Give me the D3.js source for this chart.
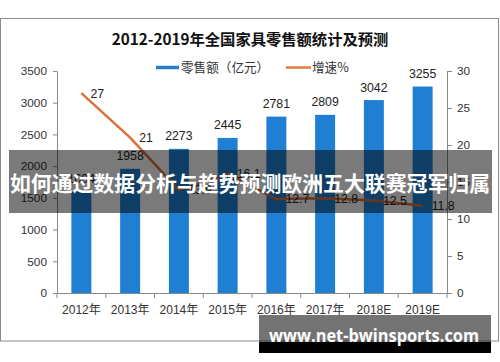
<!DOCTYPE html>
<html><head><meta charset="utf-8">
<script src="https://cdn.jsdelivr.net/npm/d3@7"></script>
<style>
html,body{margin:0;padding:0;background:#fff;}
svg{display:block;}
</style></head>
<body>
<svg id="c" width="500" height="362"></svg>
<script>
const categories = ["2012年","2013年","2014年","2015年","2016年","2017年","2018E","2019E"];
const retail = [1604,1958,2273,2445,2781,2809,3042,3255];
const growth = [27,21,13.9,16.1,12.7,12.8,12.5,11.8];
const leftTicks = [0,500,1000,1500,2000,2500,3000,3500];
const rightTicks = [0,5,10,15,20,25,30];
const title = "2012-2019年全国家具零售额统计及预测";
const legendLabels = ["零售额（亿元）","增速%"];
const bannerText = "如何通过数据分析与趋势预测欧洲五大联赛冠军归属";
const urlText = "www.net-bwinsports.com";

const svg = d3.select("#c");
const numFont = "'Liberation Sans', Arial, sans-serif";
const cjkFont = "'Noto Sans CJK SC', 'Noto Sans', sans-serif";
const barColor = "#1f80d3";
const lineColor = "#d9723a";

// frame
svg.append("rect").attr("x",0.5).attr("y",18.5).attr("width",498).attr("height",322.5)
  .attr("fill","#fff").attr("stroke","#8a8a8a").attr("stroke-width",1);

// title
svg.append("text").attr("x",250).attr("y",44.5).attr("text-anchor","middle")
  .attr("font-family",cjkFont).attr("font-weight","bold").attr("font-size",15.3)
  .attr("fill","#111").text(title);

// legend
const lg = svg.append("g");
lg.append("line").attr("x1",156).attr("x2",179).attr("y1",67.5).attr("y2",67.5)
  .attr("stroke","#2a7cc6").attr("stroke-width",3.5);
lg.append("text").attr("x",181).attr("y",72).attr("font-family",cjkFont).attr("font-size",12.6)
  .attr("fill","#333").text(legendLabels[0]);
lg.append("line").attr("x1",286).attr("x2",311).attr("y1",67.5).attr("y2",67.5)
  .attr("stroke","#e27d3c").attr("stroke-width",2.5);
lg.append("text").attr("x",312).attr("y",72).attr("font-family",cjkFont).attr("font-size",12.6)
  .attr("fill","#333").text(legendLabels[1]);

// scales
const x = d3.scaleBand().domain(categories).range([57,447]).padding(0);
const yL = d3.scaleLinear().domain([0,3500]).range([293,71]);
const yR = d3.scaleLinear().domain([0,30]).range([293,71]);
const bw = x.bandwidth()*0.41;
const cx = d => x(d) + x.bandwidth()/2;

// bars
svg.append("g").selectAll("rect").data(retail).join("rect")
  .attr("x",(d,i)=>cx(categories[i]) - bw/2)
  .attr("y",d=>yL(d)).attr("width",bw).attr("height",d=>yL(0)-yL(d))
  .attr("fill",barColor);

// axes
function styleAxis(g){
  g.select(".domain").attr("stroke","#888");
  g.selectAll(".tick line").attr("stroke","#888");
  g.selectAll(".tick text").attr("font-family",numFont).attr("font-size",11.8).attr("fill","#333");
}
svg.append("g").attr("transform","translate(57,0)")
  .call(d3.axisLeft(yL).tickValues(leftTicks).tickFormat(d3.format("d")).tickSize(4).tickPadding(6).tickSizeOuter(0))
  .call(styleAxis);
svg.append("g").attr("transform","translate(447,0)")
  .call(d3.axisRight(yR).tickValues(rightTicks).tickFormat(d3.format("d")).tickSize(5).tickPadding(5).tickSizeOuter(0))
  .call(styleAxis);
const xa = svg.append("g").attr("transform","translate(0,293)")
  .call(d3.axisBottom(x).tickSize(0).tickPadding(12).tickSizeOuter(0))
  .call(styleAxis);
xa.selectAll(".tick text").attr("font-family",numFont+", "+cjkFont).attr("font-size",12);
// boundary ticks
const bounds = categories.map(c=>x(c)).concat([x.range()[1]]);
xa.append("g").selectAll("line").data(bounds).join("line")
  .attr("x1",d=>d).attr("x2",d=>d).attr("y1",0).attr("y2",5).attr("stroke","#888");

// bar labels
svg.append("g").selectAll("text").data(retail).join("text")
  .attr("x",(d,i)=>cx(categories[i])).attr("y",d=>yL(d)-8.5)
  .attr("text-anchor","middle").attr("font-family",numFont).attr("font-size",12.3)
  .attr("fill","#222").text(d=>d);

// growth line
const line = d3.line().x((d,i)=>cx(categories[i])).y(d=>yR(d));
svg.append("path").datum(growth).attr("d",line).attr("fill","none")
  .attr("stroke",lineColor).attr("stroke-width",2.5).attr("stroke-linejoin","round");
svg.append("g").selectAll("text").data(growth).join("text")
  .attr("x",(d,i)=>cx(categories[i])+9).attr("y",d=>yR(d)+4.3)
  .attr("font-family",numFont).attr("font-size",12.3).attr("fill","#222").text(d=>d);

// overlay banner
svg.append("rect").attr("x",9).attr("y",150).attr("width",483).attr("height",63)
  .attr("fill","rgba(0,0,0,0.52)");
svg.append("text").attr("x",250).attr("y",190.5).attr("text-anchor","middle")
  .attr("font-family",cjkFont).attr("font-weight","bold").attr("font-size",21)
  .attr("fill","#fff").attr("textLength",480).attr("lengthAdjust","spacingAndGlyphs")
  .text(bannerText);

// url banner
svg.append("rect").attr("x",259).attr("y",315).attr("width",232).attr("height",27)
  .attr("fill","rgba(0,0,0,0.55)");
svg.append("rect").attr("x",259).attr("y",342).attr("width",232).attr("height",11)
  .attr("fill","#000");
svg.append("text").attr("x",269).attr("y",341.5)
  .attr("font-family","'Open Sans', 'Noto Sans', sans-serif").attr("font-weight","bold").attr("font-size",17)
  .attr("fill","#fff").attr("textLength",210).attr("lengthAdjust","spacingAndGlyphs")
  .text(urlText);
</script>
</body></html>
